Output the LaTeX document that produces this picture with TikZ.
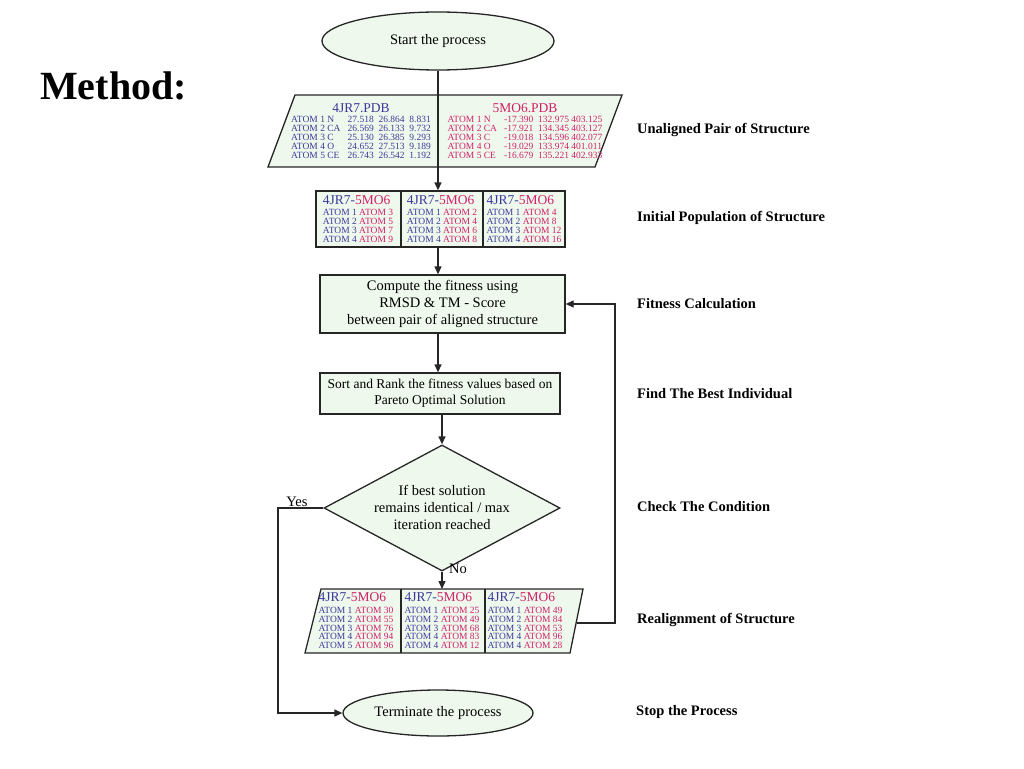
\documentclass[tikz,border=0pt]{standalone}
\usepackage{fontspec}
\setmainfont{Liberation Serif}
\usetikzlibrary{shapes.geometric,arrows.meta}
\definecolor{fillg}{HTML}{EEF8EC}
\definecolor{bl}{HTML}{3A3A9A}
\definecolor{mg}{HTML}{D0206A}
\newcommand{\tinyf}{\fontsize{9.5}{8.4}\selectfont}
\newcommand{\hdf}{\fontsize{13.5}{13}\selectfont}
\begin{document}
\begin{tikzpicture}[x=1pt,y=-1pt,
  box/.style={draw=black!85,line width=1.3pt,fill=fillg},
  ln/.style={line width=1.3pt,draw=black!85},
  arr/.style={ln,-{Triangle[length=8pt,width=7pt]}},
  txt/.style={font=\fontsize{14.5}{17}\selectfont,align=center,inner sep=0},
  side/.style={font=\bfseries\fontsize{14.5}{16}\selectfont,anchor=west,inner sep=0},
  cell/.style={inner sep=0,align=left}]
\useasboundingbox (0,0) rectangle (1024,768);
\node[font=\bfseries\fontsize{40}{42}\selectfont,anchor=west,inner sep=0] (m) at (40,86) {Method:};
% start
\node[ellipse,box,minimum width=232pt,minimum height=58pt,txt] (s) at (438,41) {Start the process};
% para1
\filldraw[box] (295,95) -- (622,95) -- (595,167) -- (268,167) -- cycle;
\node[cell] (pdbA) at (361,132) {\tinyf\color{bl}\begin{tabular}{@{}l@{\ }l@{\ \ \ }l@{\ \ }l@{\ \ }l@{}}
\multicolumn{5}{c}{\hdf 4JR7.PDB}\\[2pt]
ATOM 1 & N & 27.518 & 26.864 & 8.831\\ATOM 2 & CA & 26.569 & 26.133 & 9.732\\ATOM 3 & C & 25.130 & 26.385 & 9.293\\ATOM 4 & O & 24.652 & 27.513 & 9.189\\ATOM 5 & CE & 26.743 & 26.542 & 1.192\end{tabular}};
\node[cell] (pdbB) at (525,132) {\tinyf\color{mg}\begin{tabular}{@{}l@{\ }l@{\ \ \ }l@{\ \ }l@{\ }l@{}}
\multicolumn{5}{c}{\hdf 5MO6.PDB}\\[2pt]
ATOM 1 & N & -17.390 & 132.975 & 403.125\\ATOM 2 & CA & -17.921 & 134.345 & 403.127\\ATOM 3 & C & -19.018 & 134.596 & 402.077\\ATOM 4 & O & -19.029 & 133.974 & 401.011\\ATOM 5 & CE & -16.679 & 135.221 & 402.933\end{tabular}};
% rect2
\node[box,minimum width=249pt,minimum height=56pt,inner sep=0] (r2) at (440.5,219) {};
\draw[ln] (401,191) -- (401,247) (483,191) -- (483,247);
\newcommand{\pair}[1]{{\tinyf\begin{tabular}{@{}l@{\ }l@{}}\multicolumn{2}{@{}l@{}}{\hdf\color{bl}4JR7-\color{mg}5MO6}\\[3pt]#1\end{tabular}}}
\newcommand{\rw}[2]{\color{bl}ATOM #1 & \color{mg}ATOM #2\\}
\node[cell] (c1) at (358,220) {\pair{\rw13\rw25\rw37\rw49}};
\node[cell] (c2) at (442,220) {\pair{\rw12\rw24\rw36\rw48}};
\node[cell] (c3) at (524,220) {\pair{\rw14\rw28\rw3{12}\rw4{16}}};
% rect3
\node[box,minimum width=245pt,minimum height=58pt,txt] (r3) at (442.5,304) {Compute the fitness using\\RMSD \& TM - Score\\between pair of aligned structure};
\node[box,minimum width=240pt,minimum height=41pt,txt,font=\fontsize{13.5}{16}\selectfont] (r4) at (440,393.5) {Sort and Rank the fitness values based on\\Pareto Optimal Solution};
\node[diamond,box,minimum width=236pt,minimum height=126pt,aspect=1.9,inner sep=0] (d) at (442,508) {};
\node[txt] (dt) at (442,507) {If best solution\\remains identical / max\\iteration reached};
% para5
\filldraw[box] (321,589) -- (583,589) -- (570,653) -- (305,653) -- cycle;
\draw[ln] (401,589) -- (401,653) (485,589) -- (485,653);
\coordinate (p5t) at (442,589);
\coordinate (p5r) at (577,623);
\node[cell] (e1) at (356,622) {\pair{\rw1{30}\rw2{55}\rw3{76}\rw4{94}\rw5{96}}};
\node[cell] (e2) at (442,622) {\pair{\rw1{25}\rw2{49}\rw3{68}\rw4{83}\rw4{12}}};
\node[cell] (e3) at (525,622) {\pair{\rw1{49}\rw2{84}\rw3{53}\rw4{96}\rw4{28}}};
% terminate
\node[ellipse,box,minimum width=190pt,minimum height=46pt,txt] (t) at (438,713) {Terminate the process};
% arrows
\draw[arr] (s) -- (r2.north-|s);
\draw[arr] (r2.south-|s) -- (r3.north-|s);
\draw[arr] (r3.south-|s) -- (r4.north-|s);
\draw[arr] (r4.south-|d) -- (d.north);
\draw[arr] (d.south) -- (p5t);
\coordinate (k1) at (615,623);
\coordinate (k2) at (615,304);
\draw[arr] (p5r) -- (k1) -- (k2) -- (r3.east);
\coordinate (y1) at (278,508);
\coordinate (y2) at (278,713);
\draw[arr] (d.west) -- (y1) -- (y2) -- (t.west);
\node[txt] (yes) at (297,502) {Yes};
\node[txt] (no) at (458,569) {No};
% side labels
\node[side] (l1) at (637,130) {Unaligned Pair of Structure};
\begin{scope}
\clip (630,200) rectangle (828,235);
\node[side] (l2) at (637,218) {Initial Population of Structure};
\end{scope}
\node[side] (l3) at (637,304) {Fitness Calculation};
\node[side] (l4) at (637,394) {Find The Best Individual};
\node[side] (l5) at (637,507) {Check The Condition};
\node[side] (l6) at (637,620) {Realignment of Structure};
\node[side] (l7) at (636,712) {Stop the Process};
\end{tikzpicture}
\end{document}
